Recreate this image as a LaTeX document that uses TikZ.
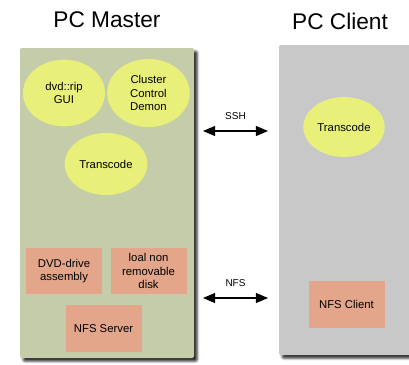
\documentclass[tikz,border=0pt]{standalone}
\usepackage{fontspec}
\setmainfont{Liberation Sans}
\usetikzlibrary{arrows,positioning,shapes.geometric,shadows.blur}

\definecolor{mastergreen}{RGB}{197,204,169}
\definecolor{clientgray}{RGB}{200,200,200}
\definecolor{procyellow}{RGB}{233,240,122}
\definecolor{hwsalmon}{RGB}{227,166,138}

\tikzset{
  pc/.style={rectangle, rounded corners=1.5pt, inner sep=0pt,
    blur shadow={shadow xshift=2.4pt, shadow yshift=-2.4pt,
      shadow blur radius=1.8pt, shadow opacity=85}},
  title/.style={font=\fontsize{17}{20}\selectfont, inner sep=0pt},
  proc/.style={ellipse, fill=procyellow, inner sep=0pt, align=center,
    font=\fontsize{8.5}{10}\selectfont},
  hw/.style={rectangle, fill=hwsalmon, inner sep=0pt, align=center,
    minimum width=57pt, minimum height=34.5pt,
    font=\fontsize{8.5}{10}\selectfont},
  link/.style={font=\fontsize{7.5}{9}\selectfont}
}

\begin{document}
\begin{tikzpicture}[x=0.75pt,y=-0.75pt,>=triangle 45]
\clip (0,0) rectangle (409,364);
\useasboundingbox (0,0) rectangle (409,364);

% the two machines
\node[pc, fill=mastergreen, minimum width=130.5pt, minimum height=232.5pt] (master) at (107,203) {};
\node[pc, fill=clientgray, minimum width=135pt, minimum height=232.5pt] (client) at (369,200) {};
\node[title] (mtitle) at (107,20) {PC Master};
\node[title] (ctitle) at (340,21) {PC Client};

% master side
\node[proc, minimum width=61.5pt, minimum height=50pt] (gui) at (64,93) {dvd::rip\\GUI};
\node[proc, minimum width=62pt, minimum height=51pt, right=1.2pt of gui] (demon) {Cluster\\Control\\Demon};
\node[proc, minimum width=62pt, minimum height=46.5pt] (mtrans) at (106,164) {Transcode};
\node[hw] (dvd) at (64,271) {DVD-drive\\assembly};
\node[hw, right=6pt of dvd] (disk) {loal non\\removable\\disk};
\node[hw, minimum height=35pt] (server) at (103.5,328.5) {NFS Server};

% client side
\node[proc, minimum width=61pt, minimum height=45pt] (ctrans) at (344,127) {Transcode};
\node[hw, minimum height=35pt] (nfsclient) at (346.5,304.5) {NFS Client};

% links
\coordinate (sshL) at (203,131);
\coordinate (sshR) at (268,131);
\coordinate (nfsL) at (203,298);
\coordinate (nfsR) at (268,298);
\path[<->, line width=1.1pt]
  (sshL) edge node[link, above=5pt] {SSH} (sshR)
  (nfsL) edge node[link, above=5pt] {NFS} (nfsR);
\end{tikzpicture}
\end{document}
